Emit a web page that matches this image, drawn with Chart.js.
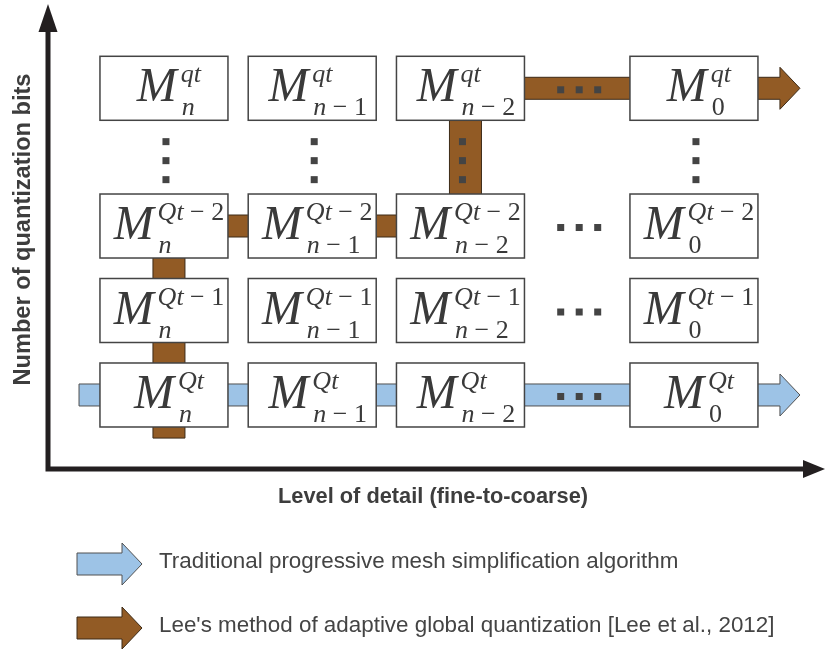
<!DOCTYPE html>
<html>
<head>
<meta charset="utf-8">
<script src="https://cdn.jsdelivr.net/npm/chart.js@4/dist/chart.umd.min.js"></script>
<style>
html, body { margin: 0; padding: 0; background: #fff; }
#wrap { width: 825px; height: 651px; position: relative; }
</style>
</head>
<body>
<div id="wrap"><canvas id="diagram"></canvas></div>
<script>
// levels of detail (x) and quantization rows (y)
const detailLabels = ['n', 'n \u2212 1', 'n \u2212 2', '0'];
const detailValues = [0, 1, 2, 3.575];
const bitLabels = ['Qt', 'Qt \u2212 1', 'Qt \u2212 2', 'qt'];
const bitValues = [0, 1, 2, 3.63];
// the "..." gap sits right after this index on each axis
const skipAfterDetail = 2;
const skipAfterBit = 2;
// the two methods, as [detail, bits] points
const traditionalPath = [[-0.573, 0], [4.29, 0]];
const leePath = [[0, -0.51], [0, 2], [2, 2], [2, 3.63], [4.29, 3.63]];
const legendLabels = [
    'Traditional progressive mesh simplification algorithm',
    "Lee's method of adaptive global quantization [Lee et al., 2012]"
];
const axisTitles = ['Level of detail (fine-to-coarse)', 'Number of quantization bits'];
const detailRange = [-1.106, 4.459];
const bitRange = [-3.03, 4.675];

const BLUE = '#9dc3e6';
const BLUE_EDGE = '#505050';
const BROWN = '#925b25';
const BROWN_EDGE = '#3c2a17';
const INK = '#3a3a3a';
const DOT = '#444';
const SANS = '"Liberation Sans", Arial, sans-serif';
const SERIF = '"Liberation Serif", "Times New Roman", serif';

const BOX_W = 128;
const BOX_H = 64;
const BAR_H = 11;      // half thickness of horizontal bars
const BAR_V = 16;      // half thickness of vertical bars
const HEAD_LEN = 20;
const HEAD_HALF = 21;

const cells = [];
bitValues.forEach((b, r) => {
    detailValues.forEach((d, c) => {
        cells.push({ x: d, y: b, sub: detailLabels[c], sup: bitLabels[r] });
    });
});

function hArrow(ctx, x0, x1, y, fill, edge, head) {
    ctx.beginPath();
    if (head) {
        const hx = x1 - HEAD_LEN;
        ctx.moveTo(x0, y - BAR_H);
        ctx.lineTo(hx, y - BAR_H);
        ctx.lineTo(hx, y - HEAD_HALF);
        ctx.lineTo(x1, y);
        ctx.lineTo(hx, y + HEAD_HALF);
        ctx.lineTo(hx, y + BAR_H);
        ctx.lineTo(x0, y + BAR_H);
    } else {
        ctx.rect(Math.min(x0, x1), y - BAR_H, Math.abs(x1 - x0), BAR_H * 2);
    }
    ctx.closePath();
    ctx.fillStyle = fill;
    ctx.fill();
    ctx.lineWidth = 1;
    ctx.strokeStyle = edge;
    ctx.stroke();
}

function vBar(ctx, x, y0, y1, fill, edge) {
    ctx.beginPath();
    ctx.rect(x + 5 - BAR_V, Math.min(y0, y1), BAR_V * 2, Math.abs(y1 - y0));
    ctx.fillStyle = fill;
    ctx.fill();
    ctx.lineWidth = 1;
    ctx.strokeStyle = edge;
    ctx.stroke();
}

function drawPath(ctx, sx, sy, path, fill, edge) {
    for (let i = 1; i < path.length; i++) {
        const [a, b] = [path[i - 1], path[i]];
        const x0 = sx.getPixelForValue(a[0]), y0 = sy.getPixelForValue(a[1]);
        const x1 = sx.getPixelForValue(b[0]), y1 = sy.getPixelForValue(b[1]);
        if (a[1] === b[1]) hArrow(ctx, x0, x1, y0, fill, edge, i === path.length - 1);
        else vBar(ctx, x0, y0, y1, fill, edge);
    }
}

// letters italic, digits and signs upright, like typeset math
function mathWidth(ctx, text, size) {
    let w = 0;
    for (const ch of text) {
        ctx.font = (/[A-Za-z]/.test(ch) ? 'italic ' : '') + size + 'px ' + SERIF;
        w += ctx.measureText(ch).width;
    }
    return w;
}
function drawMath(ctx, text, x, y, size) {
    for (const ch of text) {
        ctx.font = (/[A-Za-z]/.test(ch) ? 'italic ' : '') + size + 'px ' + SERIF;
        ctx.fillText(ch, x, y);
        x += ctx.measureText(ch).width;
    }
}

function drawCell(ctx, cx, cy, sup, sub) {
    ctx.fillStyle = '#fff';
    ctx.fillRect(cx - BOX_W / 2, cy - BOX_H / 2, BOX_W, BOX_H);
    ctx.lineWidth = 1.5;
    ctx.strokeStyle = '#444';
    ctx.strokeRect(cx - BOX_W / 2, cy - BOX_H / 2, BOX_W, BOX_H);

    ctx.font = 'italic 48px ' + SERIF;
    const mW = ctx.measureText('M').width;
    const rest = Math.max(mathWidth(ctx, sup, 26), mathWidth(ctx, sub, 26));
    const left = cx - (mW + 4 + rest) / 2 + 5;
    ctx.fillStyle = INK;
    ctx.textAlign = 'left';
    ctx.textBaseline = 'alphabetic';
    ctx.font = 'italic 48px ' + SERIF;
    ctx.fillText('M', left, cy + 13);
    drawMath(ctx, sup, left + mW + 4, cy - 6, 26);
    drawMath(ctx, sub, left + mW + 5, cy + 27, 26);
}

function dots(ctx, x, y, dx, dy) {
    ctx.fillStyle = DOT;
    for (let k = -1; k <= 1; k++) {
        ctx.fillRect(x + k * dx - 3.5, y + k * dy - 3.5, 7, 7);
    }
}

const diagramPlugin = {
    id: 'meshDiagram',
    beforeDatasetsDraw(chart) {
        const { ctx, chartArea: a, scales: { x: sx, y: sy } } = chart;
        ctx.save();
        // axes with arrow heads
        const ox = a.left + 48, oy = a.top + 469;
        ctx.strokeStyle = '#231f20';
        ctx.fillStyle = '#231f20';
        ctx.lineWidth = 5;
        ctx.beginPath();
        ctx.moveTo(ox, oy);
        ctx.lineTo(ox, a.top + 30);
        ctx.moveTo(ox - 2.5, oy);
        ctx.lineTo(a.right - 20, oy);
        ctx.stroke();
        ctx.beginPath();
        ctx.moveTo(ox, a.top + 4);
        ctx.lineTo(ox + 9.5, a.top + 32);
        ctx.lineTo(ox - 9.5, a.top + 32);
        ctx.closePath();
        ctx.fill();
        ctx.beginPath();
        ctx.moveTo(a.right, oy);
        ctx.lineTo(a.right - 22, oy - 9);
        ctx.lineTo(a.right - 22, oy + 9);
        ctx.closePath();
        ctx.fill();

        // method paths, behind the cells
        drawPath(ctx, sx, sy, traditionalPath, BLUE, BLUE_EDGE);
        drawPath(ctx, sx, sy, leePath, BROWN, BROWN_EDGE);
        ctx.restore();
    },
    afterDatasetsDraw(chart) {
        const { ctx, chartArea: a, scales: { x: sx, y: sy } } = chart;
        ctx.save();
        const meta = chart.getDatasetMeta(0);
        meta.data.forEach((pt, i) => {
            const c = chart.data.datasets[0].data[i];
            drawCell(ctx, pt.x, pt.y, c.sup, c.sub);
        });

        // ellipses between skipped columns and rows
        const xa = sx.getPixelForValue(detailValues[skipAfterDetail]) + BOX_W / 2;
        const xb = sx.getPixelForValue(detailValues[skipAfterDetail + 1]) - BOX_W / 2;
        bitValues.forEach(b => dots(ctx, (xa + xb) / 2 + 2, sy.getPixelForValue(b) + 1.5, 18.5, 0));
        const ya = sy.getPixelForValue(bitValues[skipAfterBit]) - BOX_H / 2;
        const yb = sy.getPixelForValue(bitValues[skipAfterBit + 1]) + BOX_H / 2;
        detailValues.forEach(d => dots(ctx, sx.getPixelForValue(d) + 2, (ya + yb) / 2 + 3.5, 0, 19));

        // axis titles
        ctx.fillStyle = '#3d3d3d';
        ctx.textAlign = 'center';
        ctx.textBaseline = 'alphabetic';
        ctx.font = 'bold 21.8px ' + SANS;
        ctx.fillText(axisTitles[0], a.left + 433, a.top + 503);
        ctx.save();
        ctx.translate(a.left + 29.5, a.top + 229.5);
        ctx.rotate(-Math.PI / 2);
        ctx.font = 'bold 23.6px ' + SANS;
        ctx.fillText(axisTitles[1], 0, 0);
        ctx.restore();

        // legend
        const keys = [[BLUE, BLUE_EDGE], [BROWN, BROWN_EDGE]];
        legendLabels.forEach((txt, i) => {
            const y = a.top + 564 + i * 64;
            hArrow(ctx, a.left + 77, a.left + 142, y, keys[i][0], keys[i][1], true);
            ctx.fillStyle = '#444';
            ctx.font = '22.4px ' + SANS;
            ctx.textAlign = 'left';
            ctx.fillText(txt, a.left + 159, y + 4);
        });
        ctx.restore();
    }
};

new Chart(document.getElementById('diagram'), {
    type: 'scatter',
    data: {
        datasets: [{
            label: 'cells',
            data: cells,
            pointRadius: 0,
            pointHoverRadius: 0
        }]
    },
    options: {
        responsive: true,
        maintainAspectRatio: false,
        animation: false,
        layout: { padding: 0 },
        events: [],
        scales: {
            x: { type: 'linear', display: false, min: detailRange[0], max: detailRange[1] },
            y: { type: 'linear', display: false, min: bitRange[0], max: bitRange[1] }
        },
        plugins: { legend: { display: false }, tooltip: { enabled: false } }
    },
    plugins: [diagramPlugin]
});
</script>
</body>
</html>
